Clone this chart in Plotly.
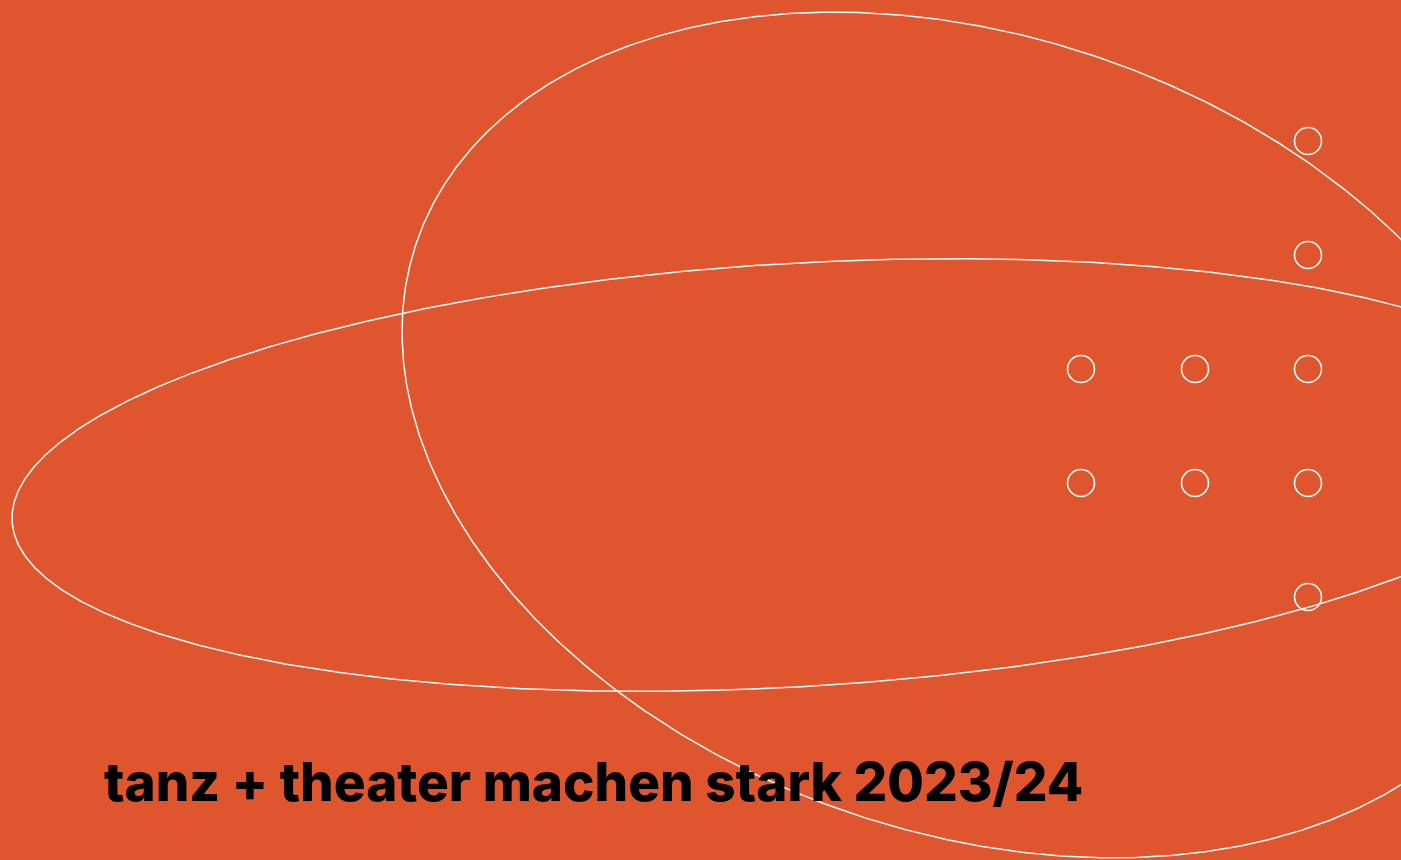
import numpy as np
import plotly.graph_objects as go

W, H = 1401, 860
BG = "#DE552E"

# Ellipse outlines described by conjugate diameters:
# centre (cx, cy), horizontal half-extent, slope of the vertical-chord midline,
# vertical half-chord through the centre
ellipse_cx = [796.0, 974.0]
ellipse_cy = [475.0, 435.0]
ellipse_xhalf = [784.0, 572.0]
ellipse_slope = [-0.055, 0.1805]
ellipse_vhalf = [212.0, 410.0]

# Small open circles (grid dots)
dot_x = [1308, 1308, 1081, 1195, 1308, 1081, 1195, 1308, 1308]
dot_y = [141, 255, 369, 369, 369, 483, 483, 483, 597]

title_text = "tanz + theater machen stark 2023/24"

fig = go.Figure()

t = np.linspace(0, 2 * np.pi, 901)
for cx, cy, xh, m, vh in zip(ellipse_cx, ellipse_cy, ellipse_xhalf,
                             ellipse_slope, ellipse_vhalf):
    ex = cx + xh * np.cos(t)
    ey = cy + m * xh * np.cos(t) + vh * np.sin(t)
    fig.add_trace(go.Scatter(x=ex, y=ey, mode="lines",
                             line=dict(color="white", width=1.5),
                             hoverinfo="skip", showlegend=False))

fig.add_trace(go.Scatter(x=dot_x, y=dot_y, mode="markers",
                         marker=dict(symbol="circle-open", size=27,
                                     line=dict(color="white", width=1.6),
                                     color="white"),
                         hoverinfo="skip", showlegend=False))

fig.add_annotation(x=102, y=782, xref="x", yref="y", text=title_text,
                   showarrow=False, xanchor="left", yanchor="middle",
                   font=dict(family="Inter", size=53, color="black", weight=800))

fig.update_xaxes(range=[0, W], visible=False, fixedrange=True)
fig.update_yaxes(range=[H, 0], visible=False, fixedrange=True)
fig.update_layout(width=W, height=H, margin=dict(l=0, r=0, t=0, b=0),
                  paper_bgcolor=BG, plot_bgcolor=BG)

fig.write_html("out.html", config={"displayModeBar": False},
               post_script="document.body.style.margin='0';"
                           "document.body.style.overflow='hidden';"
                           "document.body.style.background='#DE552E';")
